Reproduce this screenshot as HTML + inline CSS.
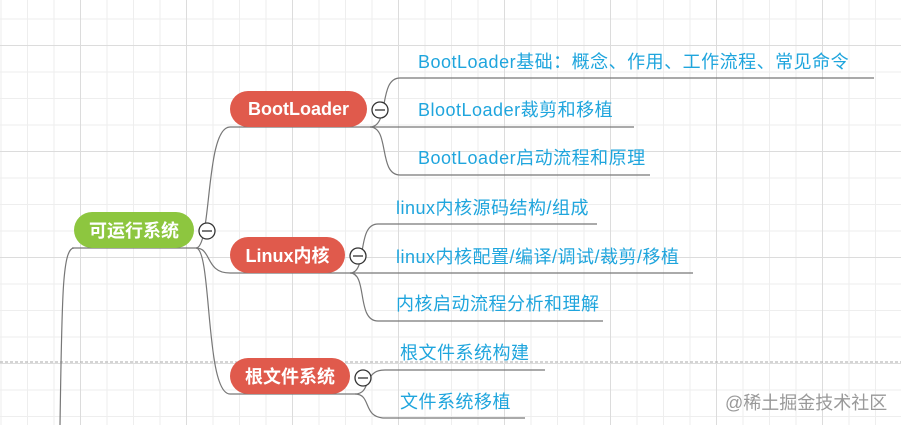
<!DOCTYPE html>
<html><head><meta charset="utf-8"><style>
html,body{margin:0;padding:0}
body{width:901px;height:425px;overflow:hidden;position:relative;background:#fff;
background-image:linear-gradient(#dcdcdc 1px,transparent 1px),linear-gradient(90deg,#dcdcdc 1px,transparent 1px),linear-gradient(#eeeeee 1px,transparent 1px),linear-gradient(90deg,#eeeeee 1px,transparent 1px);
background-size:106px 106px,106px 106px,26.5px 26.5px,26.5px 26.5px;background-position:0 45px,80px 0,0 45px,80px 0;
font-family:"Liberation Sans","Noto Sans CJK SC",sans-serif}
.n{position:absolute;color:#fff;font-weight:bold;font-size:18px;border-radius:19px;display:flex;align-items:center;justify-content:center}
.l{position:absolute;color:#1fa5dd;font-size:18px;letter-spacing:0.5px;white-space:nowrap;line-height:20px}
svg{position:absolute;left:0;top:0}
</style></head><body>
<svg width="901" height="425">
<line x1="0" y1="362" x2="901" y2="362" stroke="#aaa" stroke-dasharray="3,2" stroke-width="1"/>
<g fill="none" stroke="#777" stroke-width="1.2">
<path d="M74,248 C62,248 62,300 60,425"/>
<path d="M72,248 H196"/>
<path d="M196,248 C212,248 205,127 230,127"/>
<path d="M196,248 C212,248 205,273 230,273"/>
<path d="M196,248 C212,248 205,394 230,394"/>
<path d="M230,127 H370"/><path d="M230,273 H350"/><path d="M230,394 H355"/>
<path d="M370,127 C390,127 378,78 400,78 H874"/>
<path d="M370,127 H634"/>
<path d="M370,127 C390,127 378,175 400,175 H650"/>
<path d="M350,273 C368,273 356,224 378,224 H597"/>
<path d="M350,273 H693"/>
<path d="M350,273 C368,273 356,321 378,321 H603"/>
<path d="M355,394 C372,394 362,370 385,370 H545"/>
<path d="M355,394 C372,394 362,418 385,418 H525"/>
</g>
<g fill="#fff" stroke="#333" stroke-width="1.3">
<circle cx="207" cy="231" r="8"/><circle cx="380" cy="110" r="8"/><circle cx="358" cy="256" r="8"/><circle cx="363" cy="378" r="8"/>
</g>
<g stroke="#333" stroke-width="1.3">
<line x1="202" y1="231" x2="212" y2="231"/><line x1="375" y1="110" x2="385" y2="110"/><line x1="353" y1="256" x2="363" y2="256"/><line x1="358" y1="378" x2="368" y2="378"/>
</g>
</svg>
<div class="n" style="left:74px;top:212px;width:120px;height:36px;background:#8dc63f">可运行系统</div>
<div class="n" style="left:230px;top:91px;width:137px;height:36px;background:#e05a4c">BootLoader</div>
<div class="n" style="left:230px;top:237px;width:115px;height:36px;background:#e05a4c">Linux内核</div>
<div class="n" style="left:230px;top:358px;width:120px;height:36px;background:#e05a4c">根文件系统</div>
<div class="l" style="left:418px;top:52px">BootLoader基础：概念、作用、工作流程、常见命令</div>
<div class="l" style="left:418px;top:100px">BlootLoader裁剪和移植</div>
<div class="l" style="left:418px;top:148px">BootLoader启动流程和原理</div>
<div class="l" style="left:396px;top:198px">linux内核源码结构/组成</div>
<div class="l" style="left:396px;top:247px">linux内核配置/编译/调试/裁剪/移植</div>
<div class="l" style="left:396px;top:294px">内核启动流程分析和理解</div>
<div class="l" style="left:400px;top:343px">根文件系统构建</div>
<div class="l" style="left:400px;top:392px">文件系统移植</div>
<div style="position:absolute;left:725px;top:389px;color:#999;font-size:18px;white-space:nowrap">@稀土掘金技术社区</div>
</body></html>
